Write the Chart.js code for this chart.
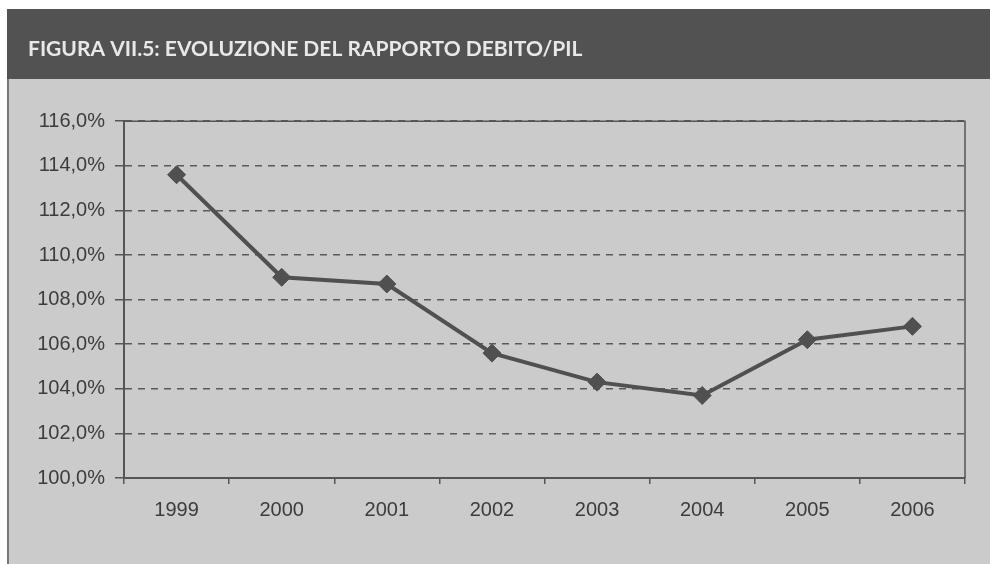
<!DOCTYPE html>
<html>
<head>
<meta charset="utf-8">
<script src="https://cdn.jsdelivr.net/npm/chart.js@4.4.1/dist/chart.umd.min.js"></script>
<style>
  html, body { margin: 0; padding: 0; background: #fff; }
  #wrap { width: 990px; height: 564px; }
</style>
</head>
<body>
<div id="wrap"><canvas id="mycanvas" width="990" height="564"></canvas></div>
<script>
// dati
var anni = ['1999', '2000', '2001', '2002', '2003', '2004', '2005', '2006'];
var debitoPil = [113.6, 109.0, 108.7, 105.6, 104.3, 103.7, 106.2, 106.8];
var titolo = 'FIGURA VII.5: EVOLUZIONE DEL RAPPORTO DEBITO/PIL';
var yMin = 100, yMax = 116, yStep = 2;

// sfondo, barra del titolo e cornice del grafico
var sfondo = {
	id: 'sfondo',
	beforeDraw: function(chart) {
		var c = chart.ctx;
		c.save();
		c.fillStyle = '#ffffff';
		c.fillRect(0, 0, chart.width, chart.height);
		c.fillStyle = '#525252';
		c.fillRect(7, 9, chart.width - 7, 70);
		c.fillStyle = '#cbcbcb';
		c.fillRect(8, 79, chart.width - 8, chart.height - 79);
		c.strokeStyle = '#777';
		c.lineWidth = 2;
		c.beginPath();
		c.moveTo(8, 79);
		c.lineTo(8, chart.height);
		c.stroke();
		c.restore();
	},
	afterDatasetsDraw: function(chart) {
		var a = chart.chartArea;
		var c = chart.ctx;
		c.save();
		c.strokeStyle = '#555';
		c.lineWidth = 1.5;
		c.beginPath();
		c.moveTo(a.left, a.top);
		c.lineTo(a.right, a.top);
		c.lineTo(a.right, a.bottom);
		c.stroke();
		c.restore();
	}
};

var ctx = document.getElementById('mycanvas');

var grafico = new Chart(ctx, {
	type: 'line',
	data: {
		labels: anni,
		datasets: [{
			label: 'Debito/PIL',
			data: debitoPil,
			borderColor: '#505050',
			backgroundColor: '#505050',
			borderWidth: 4,
			pointStyle: 'rectRot',
			pointRadius: 9,
			pointBackgroundColor: '#505050',
			pointBorderColor: '#505050',
			pointBorderWidth: 1,
			lineTension: 0,
			fill: false
		}]
	},
	options: {
		responsive: false,
		animation: false,
		layout: { padding: { left: 28, right: 25, top: 0, bottom: 0 } },
		plugins: {
			legend: { display: false },
			tooltip: { enabled: false },
			title: {
				display: true,
				text: titolo,
				align: 'start',
				color: '#e8e8e8',
				font: { family: 'Lato', size: 21, weight: 'bold' },
				padding: { top: 37, bottom: 59 }
			}
		},
		scales: {
			x: {
				offset: true,
				grid: {
					display: true,
					drawOnChartArea: false,
					offset: true,
					tickLength: 6,
					color: '#555',
					lineWidth: 1.5
				},
				border: { display: true, color: '#555', width: 2 },
				ticks: {
					color: '#3c3c3c',
					padding: 14,
					font: { family: 'Liberation Sans', size: 20 }
				},
				afterFit: function(scale) { scale.height = 86; }
			},
			y: {
				min: yMin,
				max: yMax,
				grid: {
					color: '#5a5a5a',
					lineWidth: 1.5,
					tickLength: 9,
					tickColor: '#555',
					tickBorderDash: []
				},
				border: { display: true, color: '#555', width: 2, dash: [7, 6] },
				ticks: {
					stepSize: yStep,
					color: '#3c3c3c',
					padding: 10,
					font: { family: 'Liberation Sans', size: 20 },
					callback: function(v) { return v.toFixed(1).replace('.', ',') + '%'; }
				},
				afterFit: function(scale) { scale.width = 96; }
			}
		}
	},
	plugins: [sfondo]
});
</script>
</body>
</html>
